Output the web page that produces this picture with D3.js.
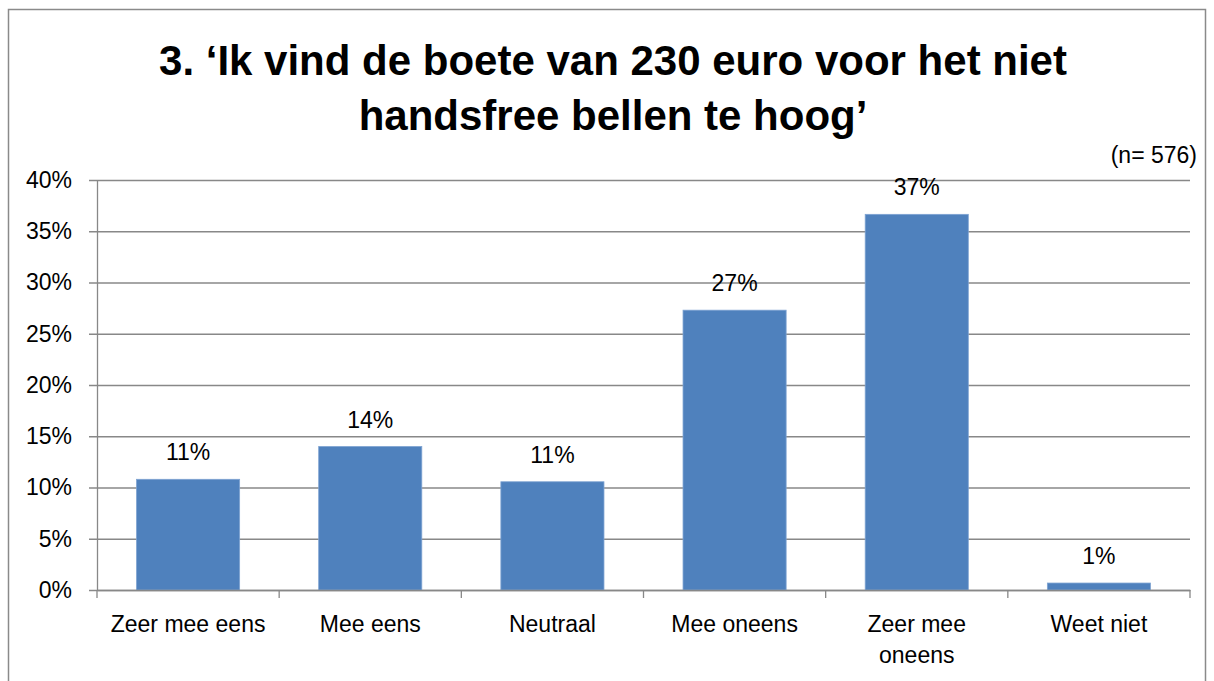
<!DOCTYPE html>
<html lang="nl">
<head>
    <meta charset="UTF-8">
    <title>Boete handsfree bellen</title>
    <script src="https://d3js.org/d3.v7.min.js"></script>
    <style>
        body { margin: 0; background: #fff; }
        text { font-family: "Liberation Sans", Arial, sans-serif; fill: #000; }
    </style>
</head>
<body>
    <div id="chart"></div>

    <script>
        // data
        const categories = ["Zeer mee eens", "Mee eens", "Neutraal", "Mee oneens", "Zeer mee oneens", "Weet niet"];
        const values = [0.108, 0.140, 0.1056, 0.273, 0.3665, 0.0068];
        const yTicks = [0, 0.05, 0.10, 0.15, 0.20, 0.25, 0.30, 0.35, 0.40];
        const titleLines = ["3. \u2018Ik vind de boete van 230 euro voor het niet", "handsfree bellen te hoog\u2019"];
        const note = "(n= 576)";

        const width = 1214;
        const height = 681;
        const plot = { left: 97, right: 1190, top: 180, bottom: 590 };
        const fs = 23;

        const svg = d3.select("#chart")
            .append("svg")
            .attr("width", width)
            .attr("height", height);

        svg.append("rect")
            .attr("width", width).attr("height", height)
            .attr("fill", "#fff");

        // outer frame
        svg.append("rect")
            .attr("x", 8.5).attr("y", 9.5)
            .attr("width", 1197).attr("height", 700)
            .attr("fill", "none")
            .attr("stroke", "#8a8a8a")
            .attr("stroke-width", 1.5);

        // title
        const title = svg.append("g");
        titleLines.forEach((t, i) => {
            title.append("text")
                .attr("x", 613)
                .attr("y", 75 + i * 55)
                .attr("text-anchor", "middle")
                .attr("font-size", 42)
                .attr("font-weight", "bold")
                .text(t);
        });
        // squeeze a bit to Calibri-like width
        const w0 = title.select("text").node().getComputedTextLength();
        const k = Math.min(1, 915 / w0);
        title.selectAll("text").each(function () {
            const len = this.getComputedTextLength();
            if (k < 1) d3.select(this).attr("textLength", len * k).attr("lengthAdjust", "spacingAndGlyphs");
        });

        svg.append("text")
            .attr("x", 1197).attr("y", 163)
            .attr("text-anchor", "end")
            .attr("font-size", fs)
            .text(note);

        // scales
        const x = d3.scaleBand()
            .domain(categories)
            .range([plot.left, plot.right])
            .paddingInner(0.434)
            .paddingOuter(0.217);

        const y = d3.scaleLinear()
            .domain([0, 0.4])
            .range([plot.bottom, plot.top]);

        // gridlines (start 8px left of the axis like the tick marks)
        const grid = svg.append("g")
            .attr("transform", `translate(${plot.left - 8},0)`)
            .call(d3.axisLeft(y).tickValues(yTicks).tickSize(-(plot.right - plot.left + 8)).tickFormat(""));
        grid.select(".domain").remove();
        grid.selectAll("line").attr("stroke", "#888").attr("stroke-width", 1.3);

        // y axis with labels
        const yAxis = svg.append("g")
            .attr("transform", `translate(${plot.left},0)`)
            .call(d3.axisLeft(y).tickValues(yTicks).tickSize(0).tickSizeOuter(0).tickPadding(25).tickFormat(d3.format(".0%")));
        yAxis.select(".domain").attr("stroke", "#888").attr("stroke-width", 1.3);
        yAxis.selectAll("text").attr("font-size", fs).attr("font-family", null).attr("fill", "#000");

        // bars
        svg.selectAll("rect.bar")
            .data(values)
            .join("rect")
            .attr("class", "bar")
            .attr("x", (d, i) => x(categories[i]))
            .attr("y", d => y(d))
            .attr("width", x.bandwidth())
            .attr("height", d => y(0) - y(d))
            .attr("fill", "#4f81bd")
            .attr("stroke", "#7ea3d2")
            .attr("stroke-width", 0.8);

        // data labels
        svg.selectAll("text.val")
            .data(values)
            .join("text")
            .attr("class", "val")
            .attr("x", (d, i) => x(categories[i]) + x.bandwidth() / 2)
            .attr("y", d => y(d) - 19)
            .attr("text-anchor", "middle")
            .attr("font-size", fs)
            .text(d => Math.round(d * 100) + "%");

        // x axis: labels from axisBottom, tick marks on category boundaries
        const xAxis = svg.append("g")
            .attr("transform", `translate(0,${plot.bottom})`)
            .call(d3.axisBottom(x).tickSize(0).tickSizeOuter(0).tickPadding(26));
        xAxis.select(".domain").attr("stroke", "#888").attr("stroke-width", 1.3);
        xAxis.selectAll("text").attr("font-size", fs).attr("font-family", null).attr("fill", "#000")
            .call(wrap, 165);

        const bounds = d3.range(categories.length + 1).map(i => plot.left + i * x.step());
        svg.append("g").selectAll("line")
            .data(bounds)
            .join("line")
            .attr("x1", d => d).attr("x2", d => d)
            .attr("y1", plot.bottom).attr("y2", plot.bottom + 8)
            .attr("stroke", "#888").attr("stroke-width", 1.3);

        function wrap(sel, maxW) {
            sel.each(function () {
                const t = d3.select(this);
                const words = t.text().split(" ");
                const yy = t.attr("y");
                const dy = parseFloat(t.attr("dy"));
                t.text(null);
                let line = [];
                let n = 0;
                let ts = t.append("tspan").attr("x", 0).attr("y", yy).attr("dy", dy + "em");
                words.forEach(w => {
                    line.push(w);
                    ts.text(line.join(" "));
                    if (ts.node().getComputedTextLength() > maxW && line.length > 1) {
                        line.pop();
                        ts.text(line.join(" "));
                        line = [w];
                        n++;
                        ts = t.append("tspan").attr("x", 0).attr("y", yy)
                            .attr("dy", (dy + n * 1.32) + "em").text(w);
                    }
                });
            });
        }
    </script>
</body>
</html>
